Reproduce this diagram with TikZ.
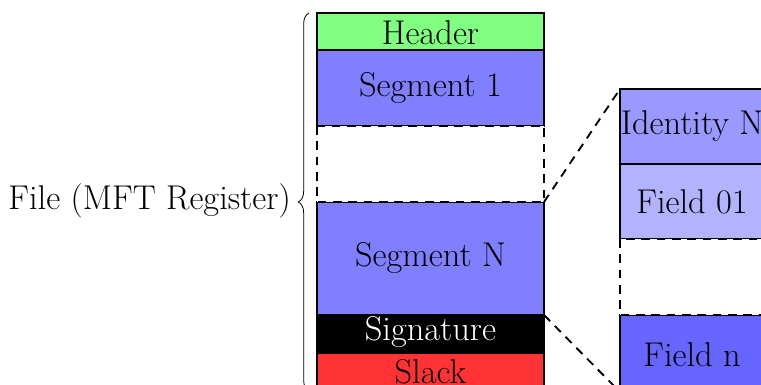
\documentclass[tikz,border=0pt]{standalone}
\usetikzlibrary{decorations.pathreplacing}
\begin{document}
\begin{tikzpicture}[x=0.75pt,y=-0.75pt,
  blk/.style={draw=black,line width=1.5pt},
  gapbox/.style={draw=black,dash pattern=on 6.5pt off 5pt,line width=1.4pt,fill=white},
  conn/.style={draw=black,dash pattern=on 6.5pt off 5pt,line width=1.4pt},
  lbl/.style={font=\fontsize{25.8}{30}\selectfont,inner sep=0pt}]
\useasboundingbox (0,0) rectangle (761,385);
\clip (0,0) rectangle (761,385);
% left column
\draw[blk,fill=green!50] (317,13) rectangle (544,50);
\node[lbl] (hdr) at (430.5,33) {Header};
\draw[blk,fill=blue!50] (317,50) rectangle (544,126);
\node[lbl] (seg1) at (430.5,88) {Segment 1};
\draw[blk,fill=blue!50] (317,202) rectangle (544,315);
\node[lbl] (segN) at (430.5,258) {Segment N};
\draw[gapbox] (317,126) rectangle (544,202);
\draw[blk,fill=black] (317,315) rectangle (544,353);
\node[lbl,text=white] (sig) at (430.5,332) {Signature};
\draw[blk,fill=red!80] (317,353) rectangle (544,391);
\node[lbl] (slack) at (430.5,372) {Slack};
% right column
\draw[blk,fill=blue!40] (620,89) rectangle (766,164);
\node[lbl] (idn) at (692,126) {Identity N};
\draw[blk,fill=blue!30] (620,164) rectangle (766,239);
\node[lbl] (f01) at (692,202) {Field 01};
\draw[blk,fill=blue!60] (620,315) rectangle (766,392);
\node[lbl] (fn) at (692,355) {Field n};
\draw[gapbox] (620,239) rectangle (766,315);
% connectors
\coordinate (a1) at (544,202);
\coordinate (b1) at (620,89);
\coordinate (a2) at (544,315);
\coordinate (b2) at (620,392);
\draw[conn] (a1) -- (b1);
\draw[conn] (a2) -- (b2);
% brace
\draw[line width=0.6pt,decorate,decoration={brace,amplitude=8pt}] (309,391) -- (309,13);
\node[lbl,anchor=east] (file) at (291,201) {File (MFT Register)};
\end{tikzpicture}
\end{document}
